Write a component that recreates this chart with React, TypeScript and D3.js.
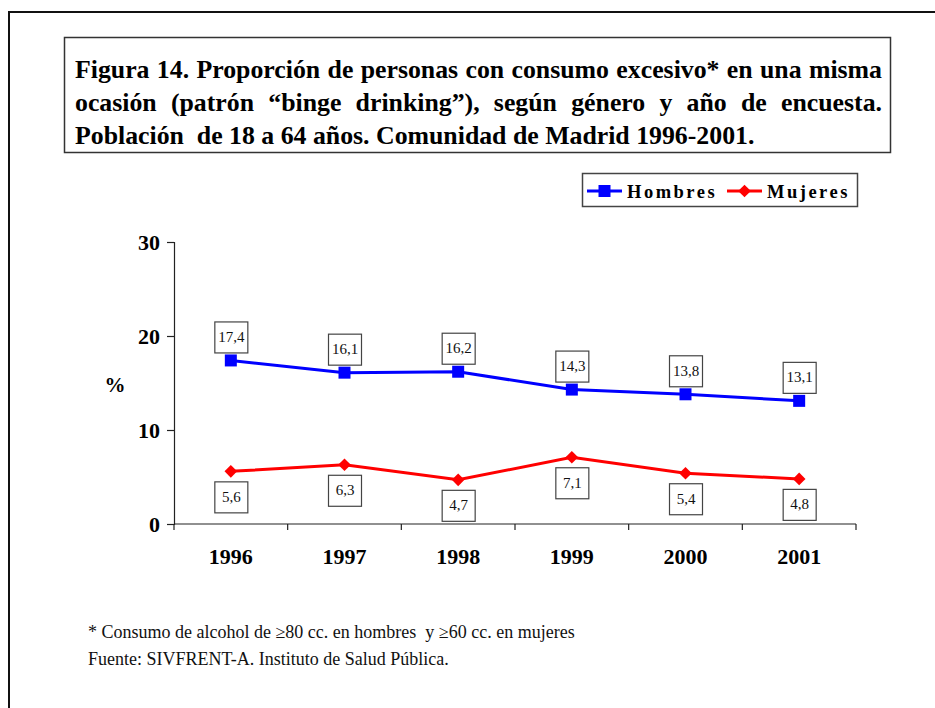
import { useEffect, useRef } from 'react'
import * as d3 from 'd3'

const years = ['1996', '1997', '1998', '1999', '2000', '2001']
const hombres = [17.4, 16.1, 16.2, 14.3, 13.8, 13.1]
const mujeres = [5.6, 6.3, 4.7, 7.1, 5.4, 4.8]
const yTicks = [0, 10, 20, 30]

const titleLines = [
  'Figura 14. Proporción de personas con consumo excesivo* en una misma',
  'ocasión (patrón “binge drinking”), según género y año de encuesta.',
  'Población  de 18 a 64 años. Comunidad de Madrid 1996-2001.'
]
const notes = [
  '* Consumo de alcohol de ≥80 cc. en hombres  y ≥60 cc. en mujeres',
  'Fuente: SIVFRENT-A. Instituto de Salud Pública.'
]

const serif = '"Liberation Serif", "Times New Roman", serif'
const fmt = (v: number) => String(v).replace('.', ',')

export default function App() {
  const svgRef = useRef<SVGSVGElement>(null)

  useEffect(() => {
    const svg = d3.select(svgRef.current)
    svg.selectAll('*').remove()

    // outer frame
    svg.append('rect')
      .attr('x', 9).attr('y', 12)
      .attr('width', 1000).attr('height', 1000)
      .attr('fill', 'white')
      .attr('stroke', '#111')
      .attr('stroke-width', 2)

    // title box
    svg.append('rect')
      .attr('x', 64.5).attr('y', 37.5)
      .attr('width', 826).attr('height', 115)
      .attr('fill', 'white')
      .attr('stroke', '#333')
      .attr('stroke-width', 1.5)

    const title = svg.append('g')
      .selectAll('text')
      .data(titleLines)
      .join('text')
      .attr('x', 75)
      .attr('y', (_, i) => 78 + i * 33)
      .attr('font-family', serif)
      .attr('font-size', 25.8)
      .attr('font-weight', 'bold')
      .attr('fill', '#000')
      .style('white-space', 'pre')
      .text(d => d)
    // justify the first two lines by widening the word gaps
    title.each(function (d, i) {
      if (i > 1) return
      const node = this as SVGTextElement
      const w = node.getComputedTextLength()
      const gaps = d.split(' ').length - 1
      d3.select(node).attr('word-spacing', (807 - w) / gaps)
    })

    // scales
    const x = d3.scaleBand<string>().domain(years).range([174, 856])
    const cx = (i: number) => x(years[i])! + x.bandwidth() / 2
    const y = d3.scaleLinear().domain([0, 30]).range([524, 242])

    // y axis
    const yAxis = svg.append('g')
      .attr('transform', 'translate(174,0)')
      .call(d3.axisLeft(y).tickValues(yTicks).tickSize(7).tickPadding(7))
    yAxis.select('.domain').attr('stroke', '#222').attr('stroke-width', 1.2)
    yAxis.selectAll('.tick line').attr('stroke', '#222').attr('stroke-width', 1.2)
    yAxis.selectAll('.tick text')
      .attr('font-family', serif)
      .attr('font-size', 22)
      .attr('font-weight', 'bold')
      .attr('fill', '#000')

    // x axis
    const xAxis = svg.append('g')
      .attr('transform', 'translate(0,524)')
    xAxis.append('line')
      .attr('x1', 174).attr('x2', 856)
      .attr('stroke', '#222').attr('stroke-width', 1.2)
    xAxis.selectAll('.xt')
      .data([...years.map(d => x(d)!), 856])
      .join('line')
      .attr('class', 'xt')
      .attr('x1', d => d).attr('x2', d => d)
      .attr('y1', 0).attr('y2', 6)
      .attr('stroke', '#222').attr('stroke-width', 1.2)
    xAxis.selectAll('text')
      .data(years)
      .join('text')
      .attr('x', (_, i) => cx(i))
      .attr('y', 40)
      .attr('text-anchor', 'middle')
      .attr('font-family', serif)
      .attr('font-size', 22)
      .attr('font-weight', 'bold')
      .text(d => d)

    svg.append('text')
      .attr('x', 115).attr('y', 392)
      .attr('text-anchor', 'middle')
      .attr('font-family', serif)
      .attr('font-size', 21)
      .attr('font-weight', 'bold')
      .text('%')

    const line = d3.line<number>().x((_, i) => cx(i)).y(d => y(d))

    // series lines
    svg.append('path')
      .datum(hombres)
      .attr('d', line)
      .attr('fill', 'none')
      .attr('stroke', '#0000FF')
      .attr('stroke-width', 3)
    svg.append('path')
      .datum(mujeres)
      .attr('d', line)
      .attr('fill', 'none')
      .attr('stroke', '#FF0000')
      .attr('stroke-width', 3)

    // markers
    svg.selectAll('.sq')
      .data(hombres)
      .join('rect')
      .attr('class', 'sq')
      .attr('x', (_, i) => cx(i) - 6)
      .attr('y', d => y(d) - 6)
      .attr('width', 12).attr('height', 12)
      .attr('fill', '#0000FF')
    const diamond = d3.symbol().type(d3.symbolSquare).size(80)
    svg.selectAll('.dm')
      .data(mujeres)
      .join('path')
      .attr('class', 'dm')
      .attr('d', diamond)
      .attr('transform', (d, i) => `translate(${cx(i)},${y(d)}) rotate(45)`)
      .attr('fill', '#FF0000')

    // data labels
    const labels = (data: number[], above: boolean) => {
      const g = svg.append('g')
      const bw = 33, bh = 31
      const top = (d: number) => (above ? y(d) - 8 - bh : y(d) + 10)
      g.selectAll('rect')
        .data(data)
        .join('rect')
        .attr('x', (_, i) => cx(i) - bw / 2 + 0.5)
        .attr('y', d => top(d) + 0.5)
        .attr('width', bw).attr('height', bh)
        .attr('fill', 'white')
        .attr('stroke', '#444')
        .attr('stroke-width', 1.2)
      g.selectAll('text')
        .data(data)
        .join('text')
        .attr('x', (_, i) => cx(i) + 0.5)
        .attr('y', d => top(d) + bh / 2 + 5)
        .attr('text-anchor', 'middle')
        .attr('font-family', serif)
        .attr('font-size', 15)
        .attr('fill', '#111')
        .text(d => fmt(d))
    }
    labels(hombres, true)
    labels(mujeres, false)

    // legend
    const lg = svg.append('g')
    lg.append('rect')
      .attr('x', 582.5).attr('y', 173.5)
      .attr('width', 275).attr('height', 33)
      .attr('fill', 'white')
      .attr('stroke', '#444')
      .attr('stroke-width', 1.5)
    const items = [
      { name: 'Hombres', color: '#0000FF', x0: 587, shape: 'sq' },
      { name: 'Mujeres', color: '#FF0000', x0: 727, shape: 'dm' }
    ]
    items.forEach(it => {
      lg.append('line')
        .attr('x1', it.x0).attr('x2', it.x0 + 35)
        .attr('y1', 191).attr('y2', 191)
        .attr('stroke', it.color).attr('stroke-width', 3)
      if (it.shape === 'sq') {
        lg.append('rect')
          .attr('x', it.x0 + 17.5 - 6).attr('y', 185)
          .attr('width', 12).attr('height', 12)
          .attr('fill', it.color)
      } else {
        lg.append('path')
          .attr('d', diamond)
          .attr('transform', `translate(${it.x0 + 17.5},191) rotate(45)`)
          .attr('fill', it.color)
      }
      lg.append('text')
        .attr('x', it.x0 + 40).attr('y', 197.5)
        .attr('font-family', serif)
        .attr('font-size', 18.5)
        .attr('font-weight', 'bold')
        .attr('letter-spacing', 2.5)
        .text(it.name)
    })

    // footnotes
    svg.append('g')
      .selectAll('text')
      .data(notes)
      .join('text')
      .attr('x', 88)
      .attr('y', (_, i) => 638 + i * 27)
      .attr('font-family', serif)
      .attr('font-size', 18)
      .attr('fill', '#111')
      .style('white-space', 'pre')
      .text(d => d)
  }, [])

  return (
    <svg
      ref={svgRef}
      width={935}
      height={708}
      style={{ position: 'absolute', left: 0, top: 0, display: 'block', background: 'white' }}
    />
  )
}
